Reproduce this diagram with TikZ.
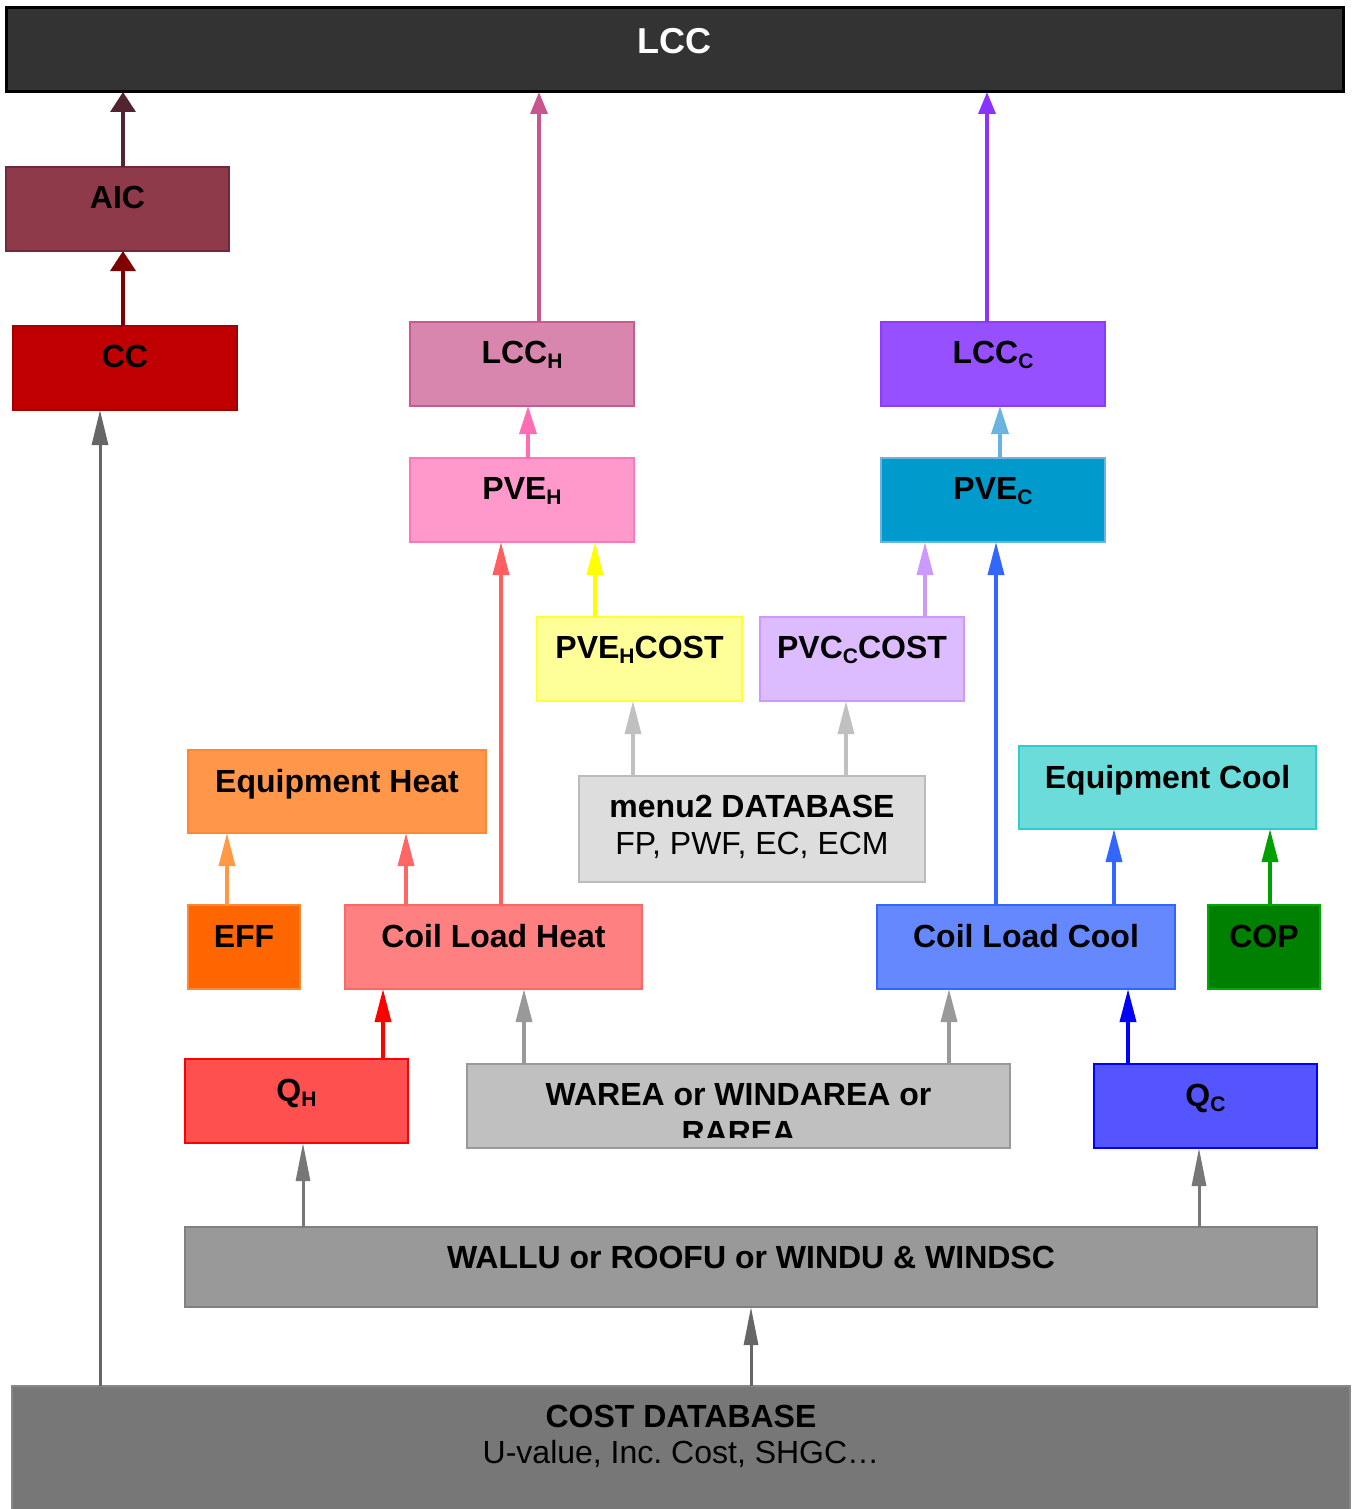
\documentclass[tikz,border=0pt]{standalone}
\usepackage{fontspec}
\setmainfont{Liberation Sans}
\usetikzlibrary{arrows.meta}
\frenchspacing
\definecolor{cLCC}{HTML}{333333}
\definecolor{cAIC}{HTML}{8E3A4A}\definecolor{dAIC}{HTML}{6E2A3A}
\definecolor{cCC}{HTML}{C00000}\definecolor{dCC}{HTML}{A00000}
\definecolor{cLCCH}{HTML}{D886AD}\definecolor{dLCCH}{HTML}{C85A93}
\definecolor{cPVEH}{HTML}{FF99CC}\definecolor{dPVEH}{HTML}{FF77BB}
\definecolor{cLCCC}{HTML}{9650FF}\definecolor{dLCCC}{HTML}{8A3DFF}
\definecolor{cPVEC}{HTML}{009BCD}\definecolor{dPVEC}{HTML}{6CB4E0}
\definecolor{cPHC}{HTML}{FFFF99}\definecolor{dPHC}{HTML}{FFFF33}
\definecolor{cPCC}{HTML}{DDBBFF}\definecolor{dPCC}{HTML}{CC99FF}
\definecolor{cMENU}{HTML}{DDDDDD}\definecolor{dMENU}{HTML}{BBBBBB}
\definecolor{cEQH}{HTML}{FF974A}\definecolor{dEQH}{HTML}{FF8833}
\definecolor{cEQC}{HTML}{6BDCDA}\definecolor{dEQC}{HTML}{33CCCC}
\definecolor{cEFF}{HTML}{FF6600}\definecolor{dEFF}{HTML}{FF8833}
\definecolor{cCLH}{HTML}{FF8080}\definecolor{dCLH}{HTML}{FF6666}
\definecolor{cCLC}{HTML}{6688FF}\definecolor{dCLC}{HTML}{3366FF}
\definecolor{cCOP}{HTML}{008000}\definecolor{dCOP}{HTML}{00AA00}
\definecolor{cQH}{HTML}{FF5050}\definecolor{dQH}{HTML}{FF0000}
\definecolor{cWA}{HTML}{C0C0C0}\definecolor{dWA}{HTML}{999999}
\definecolor{cQC}{HTML}{5555FF}\definecolor{dQC}{HTML}{0000FF}
\definecolor{cWU}{HTML}{999999}\definecolor{dWU}{HTML}{808080}
\definecolor{cCOST}{HTML}{777777}\definecolor{dCOST}{HTML}{888888}
% arrow colours
\definecolor{aAIC}{HTML}{52242F}
\definecolor{aCC}{HTML}{800000}
\definecolor{aGray}{HTML}{666666}
\definecolor{aLCCH}{HTML}{C8558F}
\definecolor{aLCCC}{HTML}{8833FF}
\definecolor{aPVEH}{HTML}{FF6EB4}
\definecolor{aPVEC}{HTML}{6CB4E0}
\definecolor{aCLH}{HTML}{FF5F5F}
\definecolor{aYel}{HTML}{FFFF00}
\definecolor{aPCC}{HTML}{CC99FF}
\definecolor{aBlue}{HTML}{3366FF}
\definecolor{aLGray}{HTML}{C0C0C0}
\definecolor{aEFF}{HTML}{FF9944}
\definecolor{aCLH2}{HTML}{FF6666}
\definecolor{aCOP}{HTML}{00A000}
\definecolor{aRed}{HTML}{FF0000}
\definecolor{aMGray}{HTML}{999999}
\definecolor{aDBlue}{HTML}{0000FF}
\definecolor{aWU}{HTML}{777777}
\newcommand\mybox[7]{%
  \node[boxst, fill=#6, draw=#7, minimum width={(#4-#2)*1pt},
        minimum height={(#5-#3)*1pt}, anchor=north west] (#1) at (#2,#3) {};}
\newcommand\sbs[1]{\raisebox{-5pt}{\fontsize{21}{21}\selectfont #1}}
\begin{document}
\begin{tikzpicture}[x=1pt,y=-1pt,
  boxst/.style={rectangle, inner sep=0pt, outer sep=0pt, line width=2pt},
  btx/.style={anchor=base, inner sep=0pt, font=\fontsize{32}{38}\selectfont\bfseries},
  rtx/.style={anchor=base, inner sep=0pt, font=\fontsize{32}{38}\selectfont},
  arr/.style={line width=3.5pt, -{Triangle[length=33pt,width=16pt]}},
  arrshort/.style={line width=3.5pt, -{Triangle[length=20pt,width=25pt]}},
  arrtop/.style={line width=3.5pt, -{Triangle[length=22pt,width=17pt]}},
  arrmid/.style={line width=3.5pt, -{Triangle[length=28pt,width=17pt]}},
  arrlow/.style={line width=3pt, -{Triangle[length=38pt,width=14pt]}}
]
\useasboundingbox (0,0) rectangle (1353,1509);
% boxes
\node[boxst, fill=cLCC, draw=black, line width=3pt, minimum width=1337pt,
      minimum height=84pt, anchor=north west] (lcc) at (6,8) {};
\mybox{aic}{6}{167}{229}{251}{cAIC}{dAIC}
\mybox{cc}{13}{326}{237}{410}{cCC}{dCC}
\mybox{lcch}{410}{322}{634}{406}{cLCCH}{dLCCH}
\mybox{pveh}{410}{458}{634}{542}{cPVEH}{dPVEH}
\mybox{lccc}{881}{322}{1105}{406}{cLCCC}{dLCCC}
\mybox{pvec}{881}{458}{1105}{542}{cPVEC}{dPVEC}
\mybox{phc}{537}{617}{742}{701}{cPHC}{dPHC}
\mybox{pcc}{760}{617}{964}{701}{cPCC}{dPCC}
\mybox{menu}{579}{776}{925}{882}{cMENU}{dMENU}
\mybox{eqh}{188}{750}{486}{833}{cEQH}{dEQH}
\mybox{eqc}{1019}{746}{1316}{829}{cEQC}{dEQC}
\mybox{eff}{188}{905}{300}{989}{cEFF}{dEFF}
\mybox{clh}{345}{905}{642}{989}{cCLH}{dCLH}
\mybox{clc}{877}{905}{1175}{989}{cCLC}{dCLC}
\mybox{cop}{1208}{905}{1320}{989}{cCOP}{dCOP}
\mybox{qh}{185}{1059}{408}{1143}{cQH}{dQH}
\mybox{wa}{467}{1064}{1010}{1148}{cWA}{dWA}
\mybox{qc}{1094}{1064}{1317}{1148}{cQC}{dQC}
\mybox{wu}{185}{1227}{1317}{1307}{cWU}{dWU}
\mybox{cost}{12}{1386}{1350}{1512}{cCOST}{dCOST}
% connectors
\draw[arrshort, aAIC] (aic.north -| 123,0) -- (lcc.south -| 123,0);
\draw[arrshort, aCC] (cc.north -| 123,0) -- (aic.south -| 123,0);
\draw[aGray, line width=3pt, -{Triangle[length=35pt,width=16pt]}] (cost.north -| 100,0) -- (cc.south -| 100,0);
\draw[arrtop, aLCCH] (lcch.north -| 539,0) -- (lcc.south -| 539,0);
\draw[arrtop, aLCCC] (lccc.north -| 987,0) -- (lcc.south -| 987,0);
\draw[arrmid, aPVEH] (pveh.north -| 528,0) -- (lcch.south -| 528,0);
\draw[arrmid, aPVEC] (pvec.north -| 1000,0) -- (lccc.south -| 1000,0);
\draw[arr, aCLH] (clh.north -| 501,0) -- (pveh.south -| 501,0);
\draw[arr, aYel] (phc.north -| 595,0) -- (pveh.south -| 595,0);
\draw[arr, aPCC] (pcc.north -| 925,0) -- (pvec.south -| 925,0);
\draw[arr, aBlue] (clc.north -| 996,0) -- (pvec.south -| 996,0);
\draw[arr, aLGray] (menu.north -| 633,0) -- (phc.south -| 633,0);
\draw[arr, aLGray] (menu.north -| 846,0) -- (pcc.south -| 846,0);
\draw[arr, aEFF] (eff.north -| 227,0) -- (eqh.south -| 227,0);
\draw[arr, aCLH2] (clh.north -| 406,0) -- (eqh.south -| 406,0);
\draw[arr, aBlue] (clc.north -| 1114,0) -- (eqc.south -| 1114,0);
\draw[arr, aCOP] (cop.north -| 1270,0) -- (eqc.south -| 1270,0);
\draw[arr, aRed] (qh.north -| 383,0) -- (clh.south -| 383,0);
\draw[arr, aMGray] (wa.north -| 524,0) -- (clh.south -| 524,0);
\draw[arr, aMGray] (wa.north -| 949,0) -- (clc.south -| 949,0);
\draw[arr, aDBlue] (qc.north -| 1128,0) -- (clc.south -| 1128,0);
\draw[arrlow, aWU] (wu.north -| 303,0) -- (qh.south -| 303,0);
\draw[arrlow, aWU] (wu.north -| 1199,0) -- (qc.south -| 1199,0);
\draw[arrlow, aGray] (cost.north -| 751,0) -- (wu.south -| 751,0);
% texts
\node[btx, text=white, font=\fontsize{36}{40}\selectfont\bfseries] (t-lcc) at (674,54) {LCC};
\node[btx] (t-aic) at (117.5,208) {AIC};
\node[btx] (t-cc) at (125,367) {CC};
\node[btx] (t-lcch) at (522,363) {LCC\sbs{H}};
\node[btx] (t-pveh) at (522,499) {PVE\sbs{H}};
\node[btx] (t-lccc) at (993,363) {LCC\sbs{C}};
\node[btx] (t-pvec) at (993,499) {PVE\sbs{C}};
\node[btx] (t-phc) at (639.5,658) {PVE\sbs{H}COST};
\node[btx] (t-pcc) at (862,658) {PVC\sbs{C}COST};
\node[btx] (t-menu1) at (752,817) {menu2 DATABASE};
\node[rtx] (t-menu2) at (752,854) {FP, PWF, EC, ECM};
\node[btx] (t-eqh) at (337,792) {Equipment Heat};
\node[btx] (t-eqc) at (1167.5,788) {Equipment Cool};
\node[btx] (t-eff) at (244,947) {EFF};
\node[btx] (t-clh) at (493.5,947) {Coil Load Heat};
\node[btx] (t-clc) at (1026,947) {Coil Load Cool};
\node[btx] (t-cop) at (1264,947) {COP};
\node[btx] (t-qh) at (296.5,1101) {Q\sbs{H}};
\node[btx] (t-qc) at (1205.5,1106) {Q\sbs{C}};
\node[btx] (t-wa1) at (738.5,1105) {WAREA or WINDAREA or};
\begin{scope}
\clip (467,1064) rectangle (1010,1137);
\node[btx] (t-wa2) at (738.5,1143) {RAREA};
\end{scope}
\node[btx] (t-wu) at (751,1268) {WALLU or ROOFU or WINDU \& WINDSC};
\node[btx] (t-cost1) at (681,1427) {COST DATABASE};
\node[rtx] (t-cost2) at (681,1463) {U-value, Inc. Cost, SHGC…};
\end{tikzpicture}
\end{document}
